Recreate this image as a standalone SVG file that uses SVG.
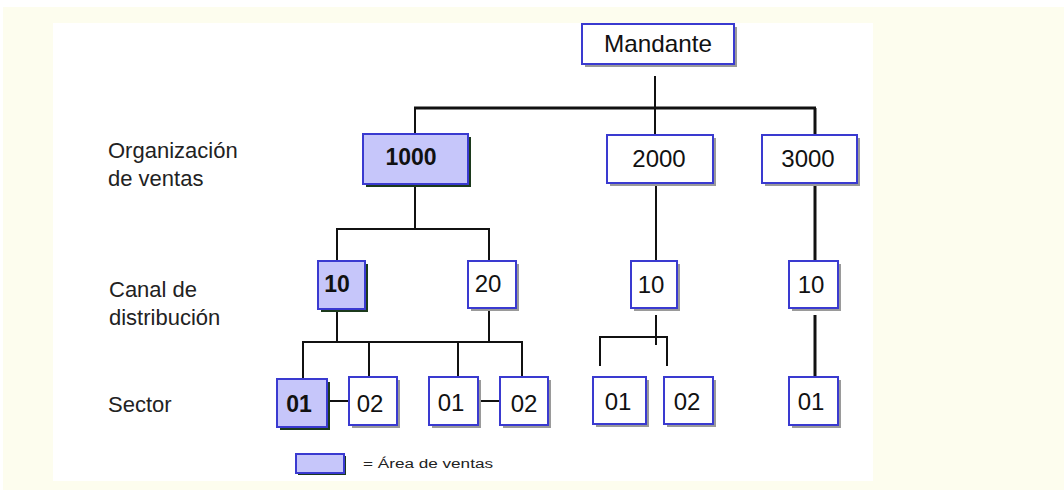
<svg xmlns="http://www.w3.org/2000/svg" width="1064" height="490" viewBox="0 0 1064 490">
  <style>
    .box { fill: #ffffff; stroke: #3a3ad0; stroke-width: 2; }
    .hl { fill: #c6c6fa; stroke: #3a3ad0; stroke-width: 2; }
    .sh { fill: #9a9a9a; }
    .shd { fill: #1c3a1c; }
    .t { font-family: "Liberation Sans", Arial, sans-serif; font-size: 24px; fill: #111; }
    .tb { font-family: "Liberation Sans", Arial, sans-serif; font-size: 23px; font-weight: bold; fill: #111; }
    .lbl { font-family: "Liberation Sans", Arial, sans-serif; font-size: 22px; fill: #222; }
    .ln { stroke: #111; stroke-width: 2; fill: none; }
    .lnt { stroke: #111; stroke-width: 3; fill: none; }
  </style>
  <rect x="0" y="0" width="1064" height="490" fill="#ffffff"/>
  <rect x="3" y="7" width="1061" height="483" fill="#fdfdee"/>
  <rect x="53" y="23" width="820" height="458" fill="#ffffff"/>

  <g id="labels">
    <text class="lbl" x="108" y="158">Organización</text>
    <text class="lbl" x="108" y="186">de ventas</text>
    <text class="lbl" x="109" y="297">Canal de</text>
    <text class="lbl" x="109" y="325">distribución</text>
    <text class="lbl" x="108" y="412">Sector</text>
  </g>

  <g id="connectors">
    <line class="ln" x1="655" y1="76" x2="655" y2="108"/>
    <line class="lnt" x1="414" y1="108" x2="816" y2="108"/>
    <line class="ln" x1="415" y1="108" x2="415" y2="134"/>
    <line class="ln" x1="655" y1="108" x2="655" y2="135"/>
    <line class="lnt" x1="815" y1="108" x2="815" y2="135"/>
    <line class="ln" x1="415" y1="186" x2="415" y2="229"/>
    <line class="ln" x1="336" y1="229" x2="490" y2="229"/>
    <line class="ln" x1="337" y1="229" x2="337" y2="261"/>
    <line class="ln" x1="489" y1="229" x2="489" y2="261"/>
    <line class="ln" x1="337" y1="311" x2="337" y2="342"/>
    <line class="ln" x1="489" y1="310" x2="489" y2="342"/>
    <line class="ln" x1="302" y1="342" x2="523" y2="342"/>
    <line class="ln" x1="303" y1="342" x2="303" y2="379"/>
    <line class="ln" x1="369" y1="342" x2="369" y2="377"/>
    <line class="ln" x1="458" y1="342" x2="458" y2="377"/>
    <line class="ln" x1="522" y1="342" x2="522" y2="377"/>
    <line class="ln" x1="327" y1="401" x2="349" y2="401"/>
    <line class="ln" x1="478" y1="401" x2="500" y2="401"/>
    <line class="ln" x1="656" y1="185" x2="656" y2="261"/>
    <line class="ln" x1="656" y1="315" x2="656" y2="345"/>
    <line class="ln" x1="599" y1="337" x2="668" y2="337"/>
    <line class="ln" x1="600" y1="337" x2="600" y2="366"/>
    <line class="ln" x1="667" y1="337" x2="667" y2="366"/>
    <line class="lnt" x1="815" y1="185" x2="815" y2="261"/>
    <line class="lnt" x1="815" y1="315" x2="815" y2="377"/>
  </g>

  <g id="mandante">
    <rect class="sh" x="585" y="27" width="152" height="40"/>
    <rect class="box" x="582" y="24" width="152" height="40"/>
    <text class="t" x="658" y="52" text-anchor="middle" textLength="108" lengthAdjust="spacingAndGlyphs">Mandante</text>
  </g>

  <g id="org1000">
    <rect class="shd" x="366" y="137" width="105" height="50"/>
    <rect class="hl" x="363" y="134" width="105" height="50"/>
    <text class="tb" x="411" y="165" text-anchor="middle">1000</text>
  </g>
  <g id="org2000">
    <rect class="sh" x="610" y="138" width="106" height="48"/>
    <rect class="box" x="607" y="135" width="106" height="48"/>
    <text class="t" x="659" y="167" text-anchor="middle">2000</text>
  </g>
  <g id="org3000">
    <rect class="sh" x="765" y="138" width="95" height="48"/>
    <rect class="box" x="762" y="135" width="95" height="48"/>
    <text class="t" x="808" y="167" text-anchor="middle">3000</text>
  </g>

  <g id="canal10a">
    <rect class="shd" x="321" y="264" width="47" height="48"/>
    <rect class="hl" x="318" y="261" width="47" height="48"/>
    <text class="tb" x="337" y="292" text-anchor="middle">10</text>
  </g>
  <g id="canal20">
    <rect class="sh" x="471" y="264" width="48" height="47"/>
    <rect class="box" x="468" y="261" width="48" height="47"/>
    <text class="t" x="488" y="292" text-anchor="middle">20</text>
  </g>
  <g id="canal10b">
    <rect class="sh" x="634" y="264" width="46" height="47"/>
    <rect class="box" x="631" y="261" width="46" height="47"/>
    <text class="t" x="651" y="293" text-anchor="middle">10</text>
  </g>
  <g id="canal10c">
    <rect class="sh" x="792" y="264" width="49" height="47"/>
    <rect class="box" x="789" y="261" width="49" height="47"/>
    <text class="t" x="811" y="293" text-anchor="middle">10</text>
  </g>

  <g id="sector01a">
    <rect class="shd" x="280" y="382" width="50" height="48"/>
    <rect class="hl" x="277" y="379" width="50" height="48"/>
    <text class="tb" x="299" y="412" text-anchor="middle">01</text>
  </g>
  <g id="sector02a">
    <rect class="sh" x="352" y="380" width="48" height="48"/>
    <rect class="box" x="349" y="377" width="48" height="48"/>
    <text class="t" x="370" y="412" text-anchor="middle">02</text>
  </g>
  <g id="sector01b">
    <rect class="sh" x="432" y="380" width="49" height="48"/>
    <rect class="box" x="429" y="377" width="49" height="48"/>
    <text class="t" x="451" y="411" text-anchor="middle">01</text>
  </g>
  <g id="sector02b">
    <rect class="sh" x="503" y="380" width="48" height="48"/>
    <rect class="box" x="500" y="377" width="48" height="48"/>
    <text class="t" x="524" y="412" text-anchor="middle">02</text>
  </g>
  <g id="sector01c">
    <rect class="sh" x="596" y="380" width="53" height="47"/>
    <rect class="box" x="593" y="377" width="53" height="47"/>
    <text class="t" x="618" y="410" text-anchor="middle">01</text>
  </g>
  <g id="sector02c">
    <rect class="sh" x="667" y="380" width="49" height="47"/>
    <rect class="box" x="664" y="377" width="49" height="47"/>
    <text class="t" x="687" y="410" text-anchor="middle">02</text>
  </g>
  <g id="sector01d">
    <rect class="sh" x="792" y="380" width="49" height="48"/>
    <rect class="box" x="789" y="377" width="49" height="48"/>
    <text class="t" x="811" y="410" text-anchor="middle">01</text>
  </g>

  <g id="legend">
    <rect class="shd" x="298" y="456" width="48" height="19"/>
    <rect class="hl" x="296" y="454" width="48" height="19"/>
    <text x="363" y="468" font-family="Liberation Sans, Arial, sans-serif" font-size="12" fill="#222" textLength="130" lengthAdjust="spacingAndGlyphs">= Área de ventas</text>
  </g>
</svg>
